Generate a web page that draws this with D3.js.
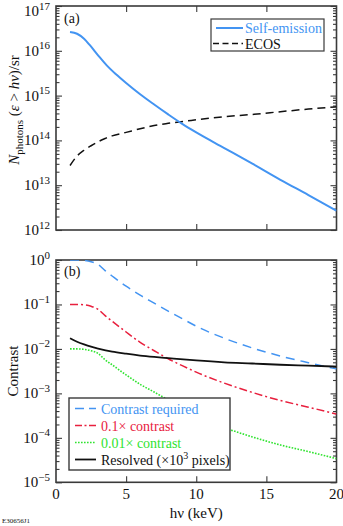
<!DOCTYPE html>
<html><head><meta charset="utf-8">
<script src="https://cdn.jsdelivr.net/npm/d3@7"></script>
<style>body{margin:0;background:#fff}svg{display:block}text{font-family:"Liberation Serif","Times New Roman",serif}</style>
</head><body><svg id="c" width="343" height="526"></svg>
<script>
// ---------- data ----------
const xTicks = [0, 5, 10, 15, 20];
const topTicks = [1e12, 1e13, 1e14, 1e15, 1e16, 1e17];
const topTickExp = ["12", "13", "14", "15", "16", "17"];
const botTicks = [1e-5, 1e-4, 1e-3, 1e-2, 1e-1, 1];
const botTickExp = ["\u22125", "\u22124", "\u22123", "\u22122", "\u22121", "0"];

const selfHv = [1, 1.5, 2, 2.4, 3, 3.6, 4.3, 5, 6, 7, 8, 9, 10, 12, 14, 16, 18, 20];
const selfEmission = [2.63e16, 2.40e16, 1.86e16, 1.35e16, 7.94e15, 4.79e15, 2.95e15, 1.91e15, 1.07e15, 6.31e14, 3.80e14, 2.34e14, 1.51e14, 6.76e13, 3.02e13, 1.32e13, 6.03e12, 2.69e12];
const ecosHv = [1, 1.5, 2, 2.5, 3, 3.5, 4, 5, 6, 7, 8, 10, 12, 14, 16, 18, 20];
const ecos = [2.75e13, 4.47e13, 6.03e13, 7.59e13, 9.33e13, 1.10e14, 1.26e14, 1.51e14, 1.82e14, 2.14e14, 2.40e14, 2.88e14, 3.39e14, 3.80e14, 4.37e14, 5.01e14, 5.62e14];

const conHv = [1, 1.5, 2, 2.5, 3, 3.5, 4, 5, 6, 7, 8, 9, 10, 12, 14, 16, 18, 20];
const contrastRequired = [1.0, 1.0, 0.977, 0.912, 0.794, 0.575, 0.437, 0.257, 0.162, 0.107, 0.0708, 0.0479, 0.0324, 0.0174, 0.0105, 0.00692, 0.0049, 0.00355];
const contrast01 = [0.1, 0.1, 0.098, 0.091, 0.078, 0.056, 0.042, 0.024, 0.0141, 0.0091, 0.0060, 0.0042, 0.0030, 0.0017, 0.00105, 0.00069, 0.00049, 0.00034];
const contrast001 = [0.01, 0.01, 0.0098, 0.0091, 0.0079, 0.0057, 0.0044, 0.0026, 0.0016, 0.00107, 0.00071, 0.00048, 0.00032, 0.00017, 0.000105, 0.000069, 0.000049, 0.000034];
const resHv = [1, 1.5, 2, 2.5, 3, 4, 5, 6, 7, 8, 10, 12, 14, 16, 18, 20];
const resolved = [0.0174, 0.0145, 0.0126, 0.0112, 0.0102, 0.0087, 0.0078, 0.0071, 0.0066, 0.0062, 0.0055, 0.0050, 0.0047, 0.0044, 0.0042, 0.0040];

// ---------- layout ----------
const svg = d3.select("#c");
const L = 56, R = 336.5;
const x = d3.scaleLinear().domain([0, 20]).range([L, R]);
const yTop = d3.scaleLog().domain([1e12, 1e17]).range([230, 6]);
const yBot = d3.scaleLog().domain([1e-5, 1]).range([482.3, 260]);

const BLUE = "#4394f2", RED = "#e8203e", GREEN = "#2fe32f";
const FRAME = "#3a3a3a";

const defs = svg.append("defs");
function clip(id, y) {
  defs.append("clipPath").attr("id", id).append("rect")
    .attr("x", L).attr("y", y.range()[1]).attr("width", R - L).attr("height", y.range()[0] - y.range()[1]);
}
clip("cTop", yTop); clip("cBot", yBot);

function panel(y, ticks, exps, showX) {
  const g = svg.append("g");
  const y0 = y.range()[0], y1 = y.range()[1];
  const minors = [];
  for (let i = 0; i < ticks.length - 1; i++) for (let k = 2; k <= 9; k++) minors.push(ticks[i] * k);
  const axL = d3.axisLeft(y).tickValues(ticks).tickSize(-6).tickFormat("");
  const axR = d3.axisRight(y).tickValues(ticks).tickSize(-6).tickFormat("");
  const axLm = d3.axisLeft(y).tickValues(minors).tickSize(-3.5).tickFormat("");
  const axRm = d3.axisRight(y).tickValues(minors).tickSize(-3.5).tickFormat("");
  const axB = d3.axisBottom(x).tickValues([5, 10, 15]).tickSize(-6).tickFormat("");
  const axT = d3.axisTop(x).tickValues([5, 10, 15]).tickSize(-6).tickFormat("");
  [[axL, `translate(${L},0)`], [axLm, `translate(${L},0)`], [axR, `translate(${R},0)`], [axRm, `translate(${R},0)`],
   [axB, `translate(0,${y0})`], [axT, `translate(0,${y1})`]].forEach(([a, t]) => {
    const s = g.append("g").attr("transform", t).call(a);
    s.select(".domain").remove();
    s.selectAll("line").attr("stroke", FRAME).attr("stroke-width", 1.1);
  });
  g.append("rect").attr("x", L).attr("y", y1).attr("width", R - L).attr("height", y0 - y1)
    .attr("fill", "none").attr("stroke", FRAME).attr("stroke-width", 1.6);
  ticks.forEach((t, i) => {
    const tx = g.append("text").attr("x", 50).attr("y", Math.max(y(t) + 5, 16)).attr("text-anchor", "end")
      .attr("font-size", 15).attr("fill", "#111");
    tx.append("tspan").text("10");
    tx.append("tspan").attr("dy", -6.5).attr("font-size", 11).text(exps[i]);
  });
  if (showX) {
    xTicks.forEach(t => g.append("text").attr("x", x(t)).attr("y", 499).attr("text-anchor", "middle")
      .attr("font-size", 15).attr("fill", "#111").text(t));
  }
  return g;
}

// ---------- top panel ----------
panel(yTop, topTicks, topTickExp, false);
const lineT = (xs) => d3.line().x((d, i) => x(xs[i])).y(d => yTop(d)).curve(d3.curveMonotoneX);
const gT = svg.append("g").attr("clip-path", "url(#cTop)");
gT.append("path").datum(ecos).attr("d", lineT(ecosHv)).attr("fill", "none").attr("stroke", "#111")
  .attr("stroke-width", 1.5).attr("stroke-dasharray", "8,5");
gT.append("path").datum(selfEmission).attr("d", lineT(selfHv)).attr("fill", "none").attr("stroke", BLUE)
  .attr("stroke-width", 2);

svg.append("text").attr("x", 64).attr("y", 23).attr("font-size", 14).attr("fill", "#111").text("(a)");

const lg1 = svg.append("g");
lg1.append("rect").attr("x", 211).attr("y", 19).attr("width", 113).attr("height", 32)
  .attr("fill", "#fff").attr("stroke", FRAME).attr("stroke-width", 1.2);
lg1.append("line").attr("x1", 216).attr("x2", 243).attr("y1", 28).attr("y2", 28).attr("stroke", BLUE).attr("stroke-width", 2);
lg1.append("text").attr("x", 245).attr("y", 33).attr("font-size", 14).attr("fill", BLUE).text("Self-emission");
lg1.append("line").attr("x1", 213).attr("x2", 243).attr("y1", 43.5).attr("y2", 43.5).attr("stroke", "#111")
  .attr("stroke-width", 1.5).attr("stroke-dasharray", "6,3.5");
lg1.append("text").attr("x", 245).attr("y", 48.5).attr("font-size", 14).attr("fill", "#111").text("ECOS");

const yt = svg.append("text").attr("transform", "translate(19,110) rotate(-90)").attr("text-anchor", "middle")
  .attr("font-size", 15).attr("fill", "#111");
yt.append("tspan").attr("font-style", "italic").text("N");
yt.append("tspan").attr("font-size", 11).attr("dy", 4).text("photons");
yt.append("tspan").attr("dy", -4).text(" (");
yt.append("tspan").attr("font-style", "italic").text("\u03b5");
yt.append("tspan").text(" > ");
yt.append("tspan").attr("font-style", "italic").text("h\u03bd");
yt.append("tspan").text(")/sr");

// ---------- bottom panel ----------
panel(yBot, botTicks, botTickExp, true);
const lineB = (xs) => d3.line().x((d, i) => x(xs[i])).y(d => yBot(d)).curve(d3.curveMonotoneX);
const gB = svg.append("g").attr("clip-path", "url(#cBot)");
gB.append("path").datum(contrastRequired).attr("d", lineB(conHv)).attr("fill", "none").attr("stroke", BLUE)
  .attr("stroke-width", 1.5).attr("stroke-dasharray", "9,6");
gB.append("path").datum(contrast01).attr("d", lineB(conHv)).attr("fill", "none").attr("stroke", RED)
  .attr("stroke-width", 1.5).attr("stroke-dasharray", "8,3,2,3");
gB.append("path").datum(contrast001).attr("d", lineB(conHv)).attr("fill", "none").attr("stroke", GREEN)
  .attr("stroke-width", 1.6).attr("stroke-dasharray", "1.6,1.4");
gB.append("path").datum(resolved).attr("d", lineB(resHv)).attr("fill", "none").attr("stroke", "#111")
  .attr("stroke-width", 1.8);

svg.append("text").attr("x", 64).attr("y", 276).attr("font-size", 14).attr("fill", "#111").text("(b)");

const lg2 = svg.append("g");
lg2.append("rect").attr("x", 69).attr("y", 398).attr("width", 161).attr("height", 72)
  .attr("fill", "#fff").attr("stroke", FRAME).attr("stroke-width", 1.4);
const entries = [
  { t: "Contrast required", c: BLUE, dash: "9,5", w: 1.5 },
  { t: "0.1\u00d7 contrast", c: RED, dash: "7,2.5,2,2.5", w: 1.5 },
  { t: "0.01\u00d7 contrast", c: GREEN, dash: "1.6,1.4", w: 1.6 },
  { t: "Resolved (\u00d710", c: "#111", dash: null, w: 1.8 }
];
entries.forEach((e, i) => {
  const yy = 408.5 + i * 17;
  const ln = lg2.append("line").attr("x1", 75).attr("x2", 96).attr("y1", yy).attr("y2", yy)
    .attr("stroke", e.c).attr("stroke-width", e.w);
  if (e.dash) ln.attr("stroke-dasharray", e.dash);
  const tx = lg2.append("text").attr("x", 101).attr("y", yy + 5).attr("font-size", 14).attr("fill", e.c).text(e.t);
  if (i === 3) {
    tx.append("tspan").attr("dy", -6).attr("font-size", 10).text("3");
    tx.append("tspan").attr("dy", 6).text(" pixels)");
  }
});

svg.append("text").attr("transform", "translate(18,371) rotate(-90)").attr("text-anchor", "middle")
  .attr("font-size", 15).attr("fill", "#111").text("Contrast");

svg.append("text").attr("x", x(10)).attr("y", 518).attr("text-anchor", "middle").attr("font-size", 15)
  .attr("fill", "#111").text("h\u03bd (keV)");
svg.append("text").attr("x", 2).attr("y", 523).attr("font-size", 7).attr("fill", "#111").text("E30656J1");
</script></body></html>
